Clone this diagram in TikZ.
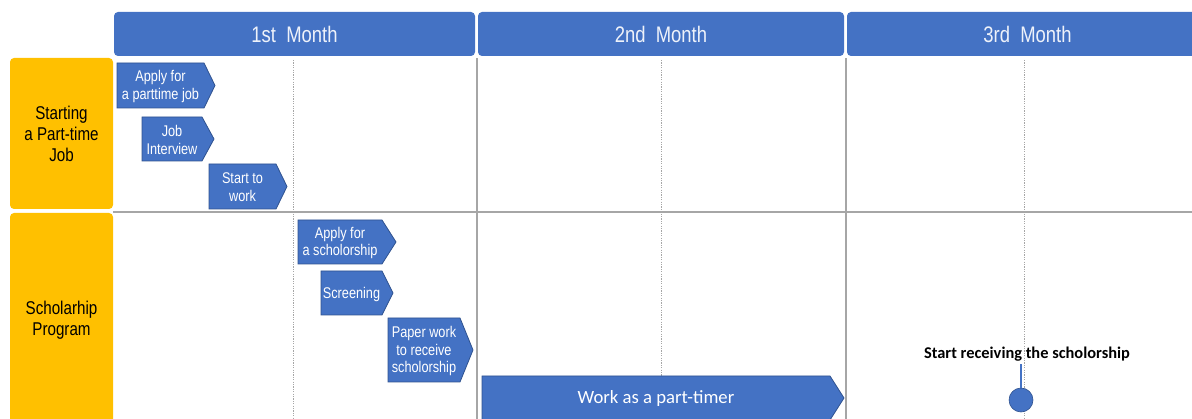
\documentclass[tikz,border=0pt]{standalone}
\usepackage{fontspec}
\usepackage{tikz}
\usetikzlibrary{positioning}
\setmainfont{Liberation Sans}
\newfontfamily\narrowfont[FakeStretch=0.82]{Liberation Sans}
\newfontfamily\calfont{Carlito}
\definecolor{planblue}{HTML}{4472C4}
\definecolor{planedge}{HTML}{2F528F}
\definecolor{laneorange}{HTML}{FFC000}
\definecolor{gridgray}{HTML}{A6A6A6}
\definecolor{headtext}{HTML}{EEF2FA}
\newcommand{\chev}[7]{%
  \filldraw[chevron] (#2,#5) -- (#3,#5) -- (#4,{(#5+#6)/2}) -- (#3,#6) -- (#2,#6) -- cycle;
  \node[chevtext] (#1) at ({(#2+#3)/2},{(#5+#6)/2+1}) {#7};
}

\begin{document}
\begin{tikzpicture}[x=1pt,y=-1pt]
\tikzset{month/.style = {fill=planblue, rounded corners=4pt, minimum height=44pt, inner sep=0pt, text=headtext, font=\narrowfont\fontsize{22.5}{26}\selectfont}}
\tikzset{lane/.style = {fill=laneorange, rounded corners=4pt, minimum width=103pt, inner sep=0pt, align=center, font=\narrowfont\fontsize{18.5}{21}\selectfont}}
\tikzset{chevron/.style = {fill=planblue, draw=planedge, line width=0.8pt}}
\tikzset{chevtext/.style = {text=white, align=center, inner sep=0pt, font=\narrowfont\fontsize{15.5}{17.7}\selectfont}}
\tikzset{grid/.style = {draw=gridgray, line width=1.3pt}}
\tikzset{dots/.style = {draw=gridgray, line width=1pt, dash pattern=on 1.2pt off 1.2pt}}

\useasboundingbox (0,0) rectangle (1192,419);

\node[month, minimum width=361pt] (m1) at (294.5,34) {1st~ Month};
\node[month, minimum width=366pt] (m2) at (661,34) {2nd~ Month};
\node[month, minimum width=361pt] (m3) at (1027.5,34) {3rd~ Month};

\node[lane, minimum height=151pt] (l1) at (61.5,133.5) {Starting\\a Part-time\\Job};
\node[lane, minimum height=214pt] (l2) at (61.5,320) {Scholarhip\\Program};

\draw[grid] (113,212) -- (1192,212);
\foreach \x in {477,846}
  \draw[grid] (\x,58) -- (\x,419);
\foreach \x in {293,661,1024}
  \draw[dots] (\x,60) -- (\x,419);

\chev{apply}{117}{204}{215}{63}{108}{Apply for\\a parttime job}
\chev{interview}{142}{202}{214}{117}{161}{Job\\Interview}
\chev{start}{209}{276}{287}{164}{209}{Start to\\work}
\chev{applys}{298}{382}{396}{220}{264}{Apply for\\a scholorship}
\chev{screen}{321}{382}{393}{271}{315}{Screening}
\chev{paper}{388}{460}{473}{318}{382}{Paper work\\to receive\\scholorship}
\chev{work}{482}{830}{844}{376}{420}{{\calfont\fontsize{18.7}{22}\selectfont Work as a part-timer}}

\node[anchor=base, inner sep=1pt, text height=12pt, text depth=4pt, font=\calfont\bfseries\fontsize{16.4}{19}\selectfont] (mslabel) at (1027,359) {Start receiving the scholorship};
\node[circle, fill=planblue, draw=planedge, line width=0.6pt, minimum size=24pt, inner sep=0pt] (ms) at (1021,400) {};
\draw[planblue, line width=1.3pt] (mslabel.south -| ms) -- (ms.north);

\end{tikzpicture}
\end{document}
